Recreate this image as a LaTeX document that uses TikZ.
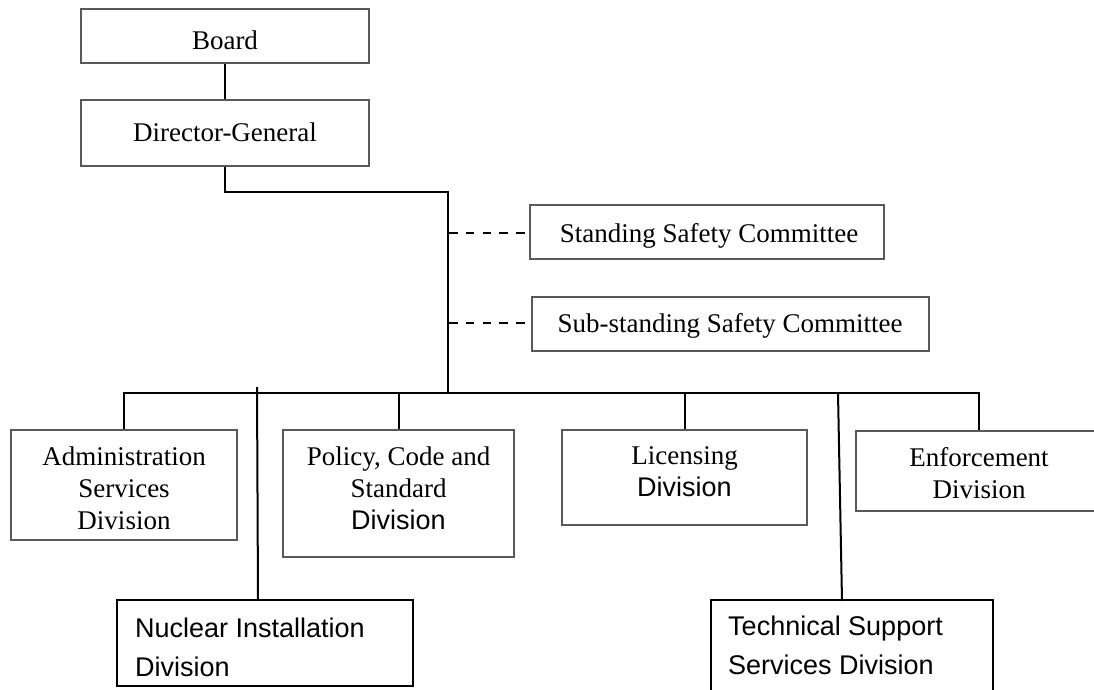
\documentclass[tikz,border=0pt]{standalone}
\usepackage{fontspec}
\setmainfont{Liberation Serif}
\newfontfamily\arialf{Liberation Sans}
\begin{document}
\begin{tikzpicture}[x=1pt,y=-1pt,
  box/.style={draw=black!65, line width=1.2pt, rectangle, inner sep=0pt},
  lbl/.style={inner sep=0pt, align=center, font=\fontsize{27}{32}\selectfont},
  blbl/.style={inner sep=0pt, align=left, anchor=west, font=\arialf\fontsize{27}{39}\selectfont},
  bboxdraw/.style={draw=black, line width=2pt},
  conn/.style={line width=2pt, black},
  dconn/.style={line width=1.5pt, black, dash pattern=on 8.5pt off 8.3pt}]
\useasboundingbox (0,0) rectangle (1094,689);
\clip (0,0) rectangle (1094,689);

% upper boxes
\node[box, minimum width=288pt, minimum height=54pt] (board) at (225,36) {};
\node[lbl] (boardT) at (225,40) {Board};
\node[box, minimum width=288pt, minimum height=66pt] (dg) at (225,133) {};
\node[lbl] (dgT) at (225,132) {Director-General};
\node[box, minimum width=354pt, minimum height=54pt] (ssc) at (707,232) {};
\node[lbl] (sscT) at (709,236) {Standing Safety Committee};
\node[box, minimum width=397pt, minimum height=54pt] (sub) at (730.5,324) {};
\node[lbl] (subT) at (730,326) {Sub-standing Safety Committee};

% divisions
\node[box, minimum width=226pt, minimum height=110pt] (admin) at (124,485) {};
\node[lbl] (adminT) at (124,488) {Administration\\Services\\Division};
\node[box, minimum width=231pt, minimum height=127pt] (policy) at (398.5,493.5) {};
\node[lbl] (policyT) at (398.5,488) {Policy, Code and\\Standard\\{\arialf Division}};
\node[box, minimum width=245pt, minimum height=95pt] (lic) at (684.5,477.5) {};
\node[lbl] (licT) at (684.5,472) {Licensing\\{\arialf Division}};
\node[box, minimum width=246pt, minimum height=80pt] (enf) at (979,471) {};
\node[lbl] (enfT) at (979,473) {Enforcement\\Division};

\node[bboxdraw, rectangle, inner sep=0pt, minimum width=296pt, minimum height=86pt] (ni) at (265,643) {};
\node[blbl] (niT) at (135,647) {Nuclear Installation\\Division};
\node[rectangle, inner sep=0pt, minimum width=282pt, minimum height=86pt] (tss) at (852,643) {};
\draw[bboxdraw] ([yshift=-40pt]tss.south west) -- (tss.north west) -- (tss.north east) -- ([yshift=-40pt]tss.south east);
\node[blbl] (tssT) at (728,645) {Technical Support\\Services Division};

% coordinates
\coordinate (t1) at (448,192);
\coordinate (t2) at (448,393);
\coordinate (d1) at (449,233);
\coordinate (d2) at (449,323);
\coordinate (d1e) at (525,233);
\coordinate (d2e) at (525,323);
\coordinate (niTop) at (257,387);
\coordinate (niIn) at (258,600);
\coordinate (tssTop) at (838,393);
\coordinate (tssIn) at (842,601);

% connectors
\draw[conn] (board.south) -- (dg.north);
\draw[conn] (dg.south) |- (t1) -- (t2);
\draw[conn] (admin.north) |- (enf.north |- t2) -- (enf.north);
\draw[conn] (policy.north) -- (policy.north |- t2);
\draw[conn] (lic.north) -- (lic.north |- t2);
\draw[conn] (niTop) -- (niIn);
\draw[conn] (tssTop) -- (tssIn);
\draw[dconn] (d1) -- (d1e);
\draw[dconn] (d2) -- (d2e);
\end{tikzpicture}
\end{document}
